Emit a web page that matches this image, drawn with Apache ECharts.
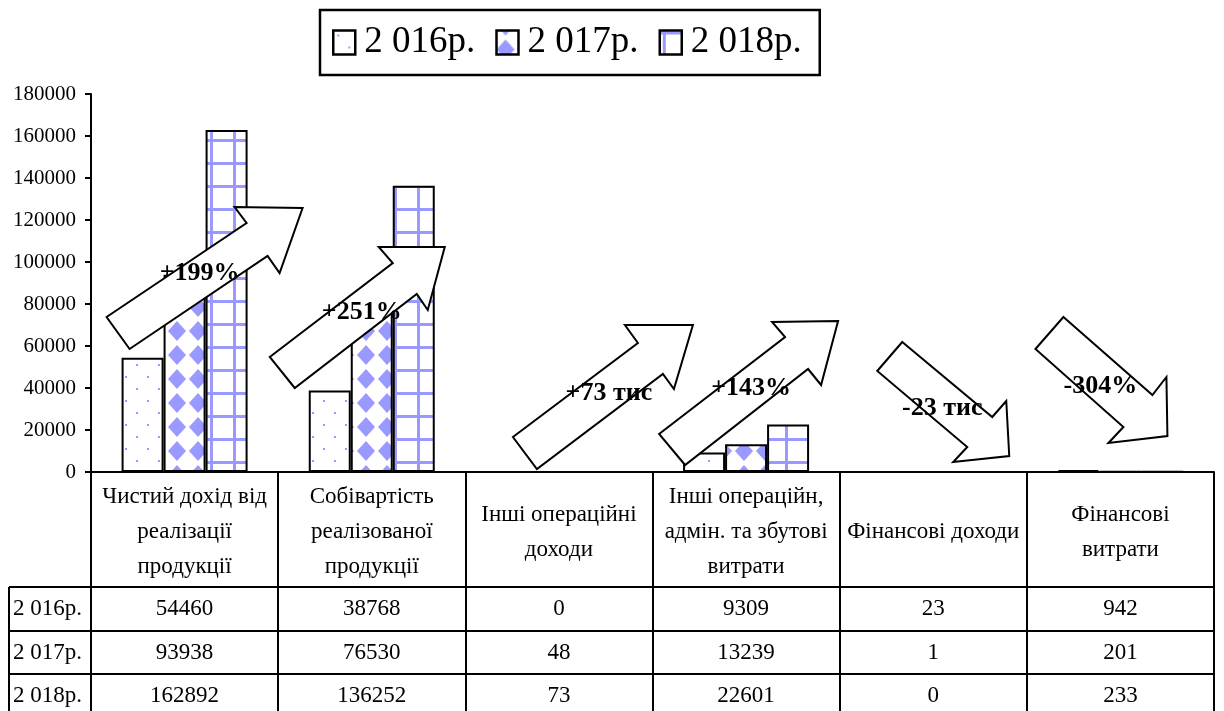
<!DOCTYPE html>
<html>
<head>
<meta charset="utf-8">
<script src="https://cdn.jsdelivr.net/npm/echarts@6/dist/echarts.min.js"></script>
<style>
html,body{margin:0;padding:0;background:#fff;}
#main{width:1224px;height:711px;}
</style>
</head>
<body>
<div id="main"></div>
<script>
// ---------- DATA ----------
const years = ['2 016р.', '2 017р.', '2 018р.'];
const categories = [
  'Чистий дохід від\nреалізації\nпродукції',
  'Собівартість\nреалізованої\nпродукції',
  'Інші операційні\nдоходи',
  'Інші операційн,\nадмін. та збутові\nвитрати',
  'Фінансові доходи',
  'Фінансові\nвитрати'
];
const values2016 = [54460, 38768, 0, 9309, 23, 942];
const values2017 = [93938, 76530, 48, 13239, 1, 201];
const values2018 = [162892, 136252, 73, 22601, 0, 233];
const yMin = 0, yMax = 180000, yStep = 20000;
const arrowLabels = ['+199%', '+251%', '+73 тис', '+143%', '-23 тис', '-304%'];

// ---------- LAYOUT / STYLE ----------
const FONT = '"Liberation Serif", "Times New Roman", serif';
const GRID = {left: 91, right: 10, top: 94, bottom: 239};
const ROW_OFFSETS = [115, 159, 202];
const TABLE_LEFT = 9;
const LW = 2;
const PAT = '#9999FF';
// arrow shapes: offsets from (category centre, zero line)
const arrowShapes = [
  [[-78,-155],[62,-249],[50,-265],[118,-264],[95,-199],[83,-216],[-55,-123]],
  [[-102,-115],[21,-209],[7,-225],[73,-225],[56,-162],[45,-178],[-77,-84]],
  [[-46,-35],[79,-129],[66,-147],[134,-147],[115,-83],[104,-98],[-22,-3]],
  [[-87,-38],[39,-135],[26,-150],[92,-151],[75,-87],[62,-103],[-61,-7]],
  [[-31,-130],[59,-55],[73,-71],[76,-16],[20,-10],[34,-25],[-56,-101]],
  [[-57,-155],[32,-77],[46,-95],[47,-36],[-12,-29],[3,-45],[-85,-123]]
];
const arrowLabelPos = [[15,-199],[-10,-160],[50,-79],[5,-84],[9,-64],[-20,-86]];

function tile(w, h, draw) {
  const c = document.createElement('canvas');
  c.width = w; c.height = h;
  const ctx = c.getContext('2d');
  ctx.fillStyle = '#fff'; ctx.fillRect(0, 0, w, h);
  ctx.fillStyle = PAT;
  draw(ctx, w, h);
  return {image: c, repeat: 'repeat'};
}
const patDots = tile(22, 24, ctx => { ctx.fillRect(4, 4, 2, 2); ctx.fillRect(15, 16, 2, 2); });
const patDiamond = tile(21, 24, (ctx, w, h) => {
  const cx = 9, cy = 19, hw = 9, hh = 10;
  for (let k = -1; k <= 1; k++) for (let l = -1; l <= 1; l++) {
    const x = cx + k * w, y = cy + l * h;
    ctx.beginPath();
    ctx.moveTo(x, y - hh); ctx.lineTo(x + hw, y); ctx.lineTo(x, y + hh); ctx.lineTo(x - hw, y); ctx.closePath();
    ctx.fill();
  }
});
const patGrid = tile(23, 23, ctx => { ctx.fillRect(3, 0, 3, 23); ctx.fillRect(0, 1, 23, 3); });
const patterns = [patDots, patDiamond, patGrid];

const seriesValues = [values2016, values2017, values2018];

const chart = echarts.init(document.getElementById('main'), null, {renderer: 'canvas'});

const xAxes = [{
  type: 'category', data: categories, position: 'bottom',
  axisLine: {onZero: false, lineStyle: {color: '#000', width: LW}},
  axisTick: {show: true, interval: 0, length: 239, lineStyle: {color: '#000', width: LW}},
  axisLabel: {interval: 0, margin: 60, verticalAlign: 'middle', align: 'center',
    fontFamily: FONT, fontSize: 23, lineHeight: 35, color: '#000'},
  splitLine: {show: false}
}];
seriesValues.forEach((row, r) => {
  xAxes.push({
    type: 'category', data: categories, position: 'bottom', offset: ROW_OFFSETS[r],
    axisLine: {show: true, onZero: false, lineStyle: {color: '#000', width: LW}},
    axisTick: {show: false},
    axisLabel: {interval: 0, margin: 22, verticalAlign: 'middle', align: 'center',
      fontFamily: FONT, fontSize: 23, color: '#000',
      formatter: (v, idx) => String(row[idx])},
    splitLine: {show: false}
  });
});

chart.setOption({
  animation: false,
  backgroundColor: '#fff',
  textStyle: {fontFamily: FONT, color: '#000'},
  grid: {left: GRID.left, right: GRID.right, top: GRID.top, bottom: GRID.bottom,
    containLabel: false, outerBoundsMode: 'none'},
  legend: {
    show: true, left: 320, top: 10, orient: 'horizontal',
    padding: [14, 18, 14, 12], borderColor: '#000', borderWidth: 2.5,
    itemWidth: 22, itemHeight: 24, itemGap: 20, icon: 'rect',
    itemStyle: {borderColor: '#000', borderWidth: 2.5},
    textStyle: {fontFamily: FONT, fontSize: 37, color: '#000', padding: [0, 0, 0, 4]},
    data: years
  },
  tooltip: {show: false},
  xAxis: xAxes,
  yAxis: {
    type: 'value', min: yMin, max: yMax, interval: yStep,
    axisLine: {show: true, lineStyle: {color: '#000', width: LW}},
    axisTick: {show: true, length: 6, lineStyle: {color: '#000', width: LW}},
    splitLine: {show: false},
    axisLabel: {margin: 15, fontFamily: FONT, fontSize: 21, color: '#000', formatter: v => String(v)}
  },
  series: years.map((name, i) => ({
    name: name, type: 'bar', xAxisIndex: 0, yAxisIndex: 0,
    data: seriesValues[i], barWidth: 42, barGap: '0%',
    itemStyle: {color: patterns[i], borderColor: '#000', borderWidth: 2},
    emphasis: {disabled: true}
  }))
});

// ---------- annotations & table left column ----------
const graphics = [];
categories.forEach((c, i) => {
  const p = chart.convertToPixel({xAxisIndex: 0, yAxisIndex: 0}, [i, 0]);
  graphics.push({
    type: 'polygon', z: 100,
    shape: {points: arrowShapes[i].map(([dx, dy]) => [p[0] + dx, p[1] + dy])},
    style: {fill: '#fff', stroke: '#000', lineWidth: 2}
  });
  graphics.push({
    type: 'text', z: 101,
    style: {text: arrowLabels[i], x: p[0] + arrowLabelPos[i][0], y: p[1] + arrowLabelPos[i][1],
      align: 'center', verticalAlign: 'middle', fontFamily: FONT, fontSize: 26, fontWeight: 'bold', fill: '#000'}
  });
});
const zeroY = chart.convertToPixel({yAxisIndex: 0}, 0);
const H = chart.getHeight();
graphics.push({type: 'line', z: 50, shape: {x1: TABLE_LEFT, y1: zeroY + ROW_OFFSETS[0], x2: TABLE_LEFT, y2: H},
  style: {stroke: '#000', lineWidth: LW}});
years.forEach((y, r) => {
  const top = zeroY + ROW_OFFSETS[r];
  const next = r + 1 < ROW_OFFSETS.length ? zeroY + ROW_OFFSETS[r + 1] : top + (ROW_OFFSETS[1] - ROW_OFFSETS[0]);
  graphics.push({type: 'line', z: 50, shape: {x1: TABLE_LEFT, y1: top, x2: GRID.left, y2: top},
    style: {stroke: '#000', lineWidth: LW}});
  graphics.push({type: 'text', z: 51,
    style: {text: y, x: TABLE_LEFT + 4, y: (top + next) / 2, align: 'left', verticalAlign: 'middle',
      fontFamily: FONT, fontSize: 23, fill: '#000'}});
});
chart.setOption({graphic: graphics});
</script>
</body>
</html>
